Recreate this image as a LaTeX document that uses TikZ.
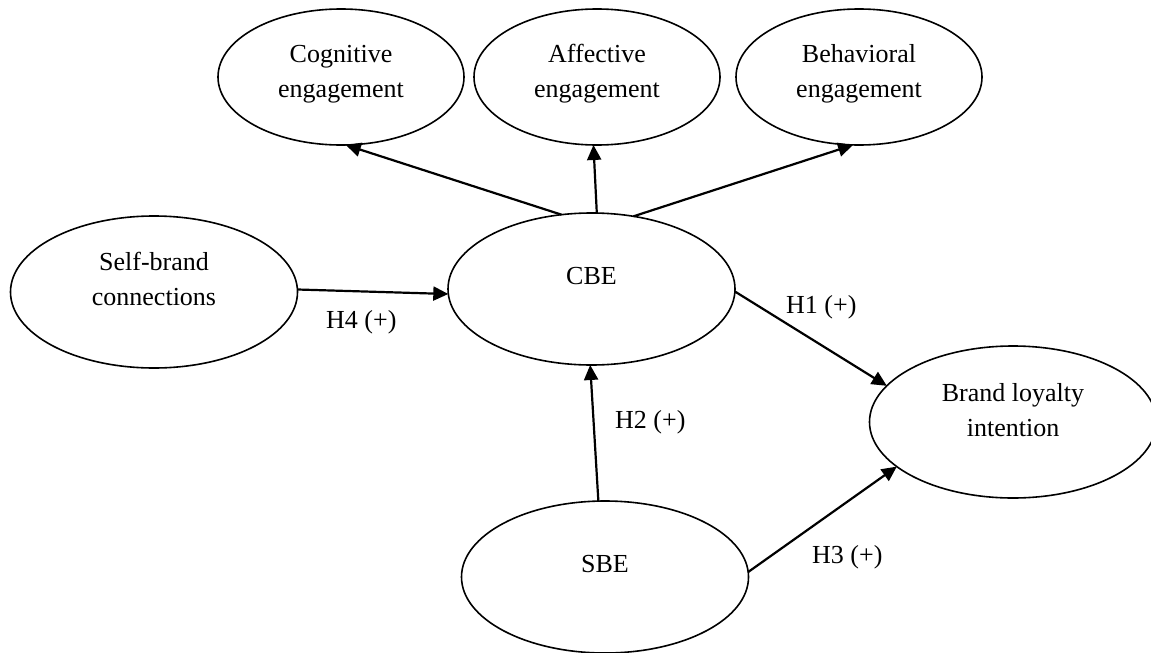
\documentclass[tikz,border=0pt]{standalone}
\usepackage{fontspec}
\setmainfont{Liberation Serif}
\usetikzlibrary{shapes.geometric,arrows.meta}
\begin{document}
\begin{tikzpicture}[x=1pt,y=-1pt,
  oval/.style={draw,ellipse,line width=1.6pt,inner sep=0pt,outer sep=0pt},
  small/.style={oval,minimum width=246pt,minimum height=136pt},
  big/.style={oval,minimum width=287pt,minimum height=152pt},
  lbl/.style={inner sep=0pt,align=center,font=\fontsize{26}{35}\selectfont},
  hyp/.style={inner sep=0pt,anchor=base west,font=\fontsize{26}{35}\selectfont},
  link/.style={line width=2.2pt,-{Triangle[length=15pt,width=14pt]}}]
\fill[white] (0,0) rectangle (1151,653);
\useasboundingbox (0,0) rectangle (1151,653);
% ellipses
\node[small] (cog) at (341,77) {};
\node[small] (aff) at (597,77) {};
\node[small] (beh) at (859,77) {};
\node[big] (sbc) at (154,292) {};
\node[big] (cbe) at (591.5,289) {};
\node[big] (bli) at (1013,422) {};
\node[big] (sbe) at (605,577) {};
% texts
\node[lbl] (cogt) at (341,72.5) {\strut Cognitive\\\strut engagement};
\node[lbl] (afft) at (597,72.5) {\strut Affective\\\strut engagement};
\node[lbl] (beht) at (859,72.5) {\strut Behavioral\\\strut engagement};
\node[lbl] (sbct) at (154,280.5) {\strut Self-brand\\\strut connections};
\node[lbl] (blit) at (1013,411.5) {\strut Brand loyalty\\\strut intention};
\node[lbl,anchor=base] (cbet) at (591.5,284) {CBE};
\node[lbl,anchor=base] (sbet) at (605,572) {SBE};
% connectors
\draw[link] (cbe.112) -- (cog.274);
\draw[link] (cbe.86) -- (aff.267);
\draw[link] (cbe.60) -- (beh.265);
\draw[link] (sbc.1) -- (cbe.182);
\draw[link] (cbe.359) -- (bli.164);
\draw[link] (sbe.95) -- (cbe.269);
\draw[link] (sbe.2) -- (bli.201);
% hypothesis labels
\node[hyp] (h4) at (326,328) {H4 (+)};
\node[hyp] (h1) at (786,313) {H1 (+)};
\node[hyp] (h2) at (615,428) {H2 (+)};
\node[hyp] (h3) at (812,563) {H3 (+)};
\end{tikzpicture}
\end{document}
